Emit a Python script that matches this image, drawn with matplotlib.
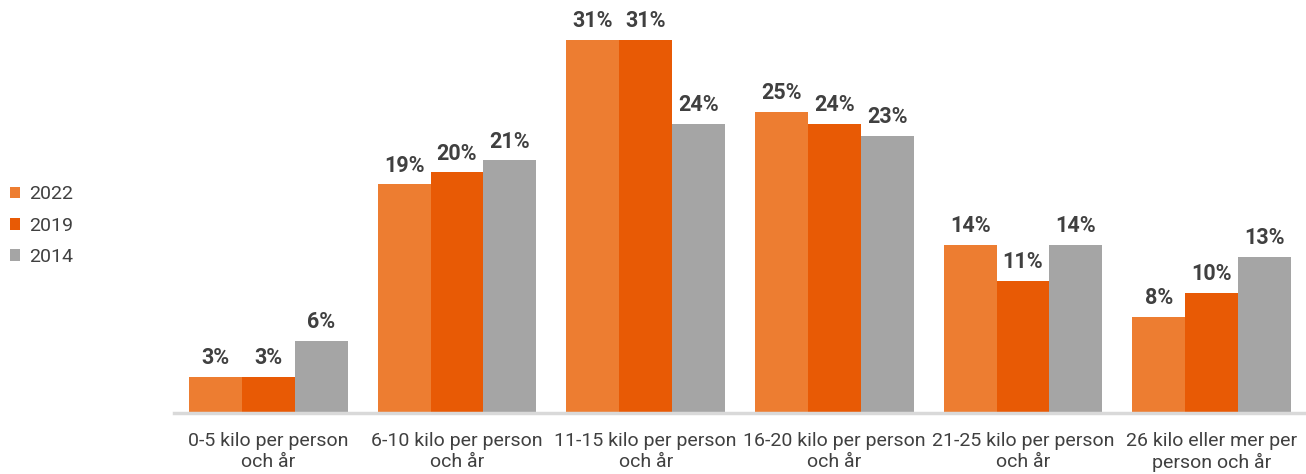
import matplotlib
matplotlib.use("Agg")
import matplotlib.pyplot as plt
import numpy as np

plt.rcParams['font.family'] = ['Roboto', 'DejaVu Sans']

categories = ["0-5 kilo per person\noch år", "6-10 kilo per person\noch år",
              "11-15 kilo per person\noch år", "16-20 kilo per person\noch år",
              "21-25 kilo per person\noch år", "26 kilo eller mer per\nperson och år"]
years = ["2022", "2019", "2014"]
values_2022 = [3, 19, 31, 25, 14, 8]
values_2019 = [3, 20, 31, 24, 11, 10]
values_2014 = [6, 21, 24, 23, 14, 13]
colors = ["#ED7D31", "#E85A05", "#A5A5A5"]

fig = plt.figure(figsize=(13.06, 4.74), dpi=100)
ax = fig.add_axes([0.1332, 0.1287, 0.8668, 0.7869])

x = np.arange(len(categories))
width = 0.28
series = [values_2022, values_2019, values_2014]
for i, (vals, year, col) in enumerate(zip(series, years, colors)):
    pos = x + (i - 1) * width
    bars = ax.bar(pos, vals, width, color=col, label=year)
    for b, v in zip(bars, vals):
        ax.text(b.get_x() + b.get_width() / 2, v + 0.65, f"{v}%", ha="center", va="bottom",
                fontsize=15.5, fontweight="bold", color="#404040", clip_on=False)

ax.set_xlim(-0.5, len(categories) - 0.5)
ax.set_ylim(0, 31)
ax.set_yticks([])
ax.set_xticks(x)
ax.set_xticklabels(categories, fontsize=14, color="#404040", linespacing=1.15)
ax.tick_params(axis="x", length=0, pad=14)
for s in ["top", "right", "left"]:
    ax.spines[s].set_visible(False)
ax.spines["bottom"].set_color("#D9D9D9")
ax.spines["bottom"].set_linewidth(2.5)

fig.legend(loc="center left", bbox_to_anchor=(0.0, 0.524), frameon=False, fontsize=14,
           handlelength=0.55, handleheight=0.55, handletextpad=0.45, labelspacing=0.68,
           labelcolor="#404040", borderaxespad=0.1)

fig.savefig("out.png", dpi=100)
